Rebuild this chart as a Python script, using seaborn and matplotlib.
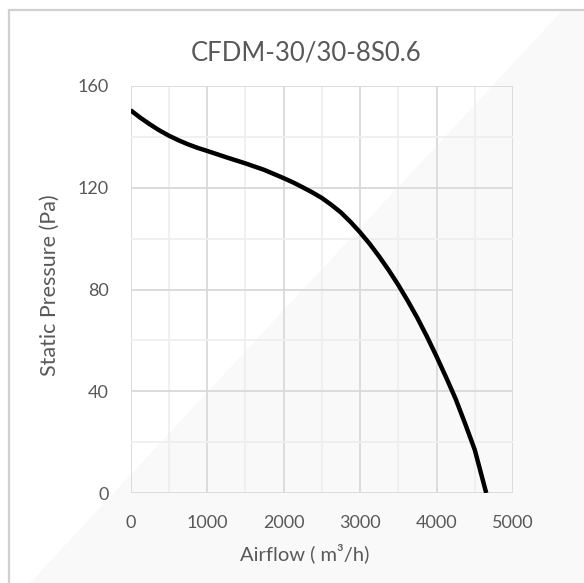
import matplotlib
matplotlib.use("Agg")
import matplotlib.pyplot as plt
from matplotlib.patches import Polygon
from matplotlib.lines import Line2D
import seaborn as sns
import pandas as pd

title = "CFDM-30/30-8S0.6"
airflow = [0, 125, 250, 375, 500, 625, 750, 875, 1000, 1250, 1500, 1750, 2000,
           2125, 2250, 2375, 2500, 2625, 2750, 2875, 3000, 3125, 3250, 3375, 3500,
           3625, 3750, 3875, 4000, 4125, 4250, 4375, 4500, 4575, 4650]
pressure = [150.5, 147.6, 145, 142.6, 140.5, 138.7, 137.1, 135.7, 134.5, 132, 129.6, 127, 123.8,
            122.1, 120.2, 118.2, 116, 113.3, 110.3, 106.6, 102.5, 98, 93, 87.6, 81.8,
            75.5, 68.8, 61.5, 53.7, 45.5, 37, 27.2, 17, 8.5, 0]
x_ticks = [0, 1000, 2000, 3000, 4000, 5000]
y_ticks = [0, 40, 80, 120, 160]
x_label = "Airflow ( m³/h)"
y_label = "Static Pressure (Pa)"

sns.set_theme(style="white")
plt.rcParams["font.family"] = ["Lato", "DejaVu Sans"]
TXT = "#595959"

W, H = 584, 583
fig = plt.figure(figsize=(W / 100, H / 100), dpi=100)
fig.patch.set_facecolor("white")

# diagonal light shading
tri = Polygon([(563 / W, 1 - 10 / H), (30 / W, 0), (1, 0), (1, 1 - 10 / H)],
              closed=True, transform=fig.transFigure, facecolor="#f9f9f9",
              edgecolor="none", zorder=-5)
fig.patches.append(tri)
# chart border (top and left)
fig.lines.append(Line2D([8.5 / W, 1], [1 - 10 / H, 1 - 10 / H], transform=fig.transFigure,
                        color="#d0d0d0", lw=1.6, zorder=-4))
fig.lines.append(Line2D([8.5 / W, 8.5 / W], [0, 1 - 10 / H], transform=fig.transFigure,
                        color="#d0d0d0", lw=1.6, zorder=-4))

left, right, top, bottom = 130.5, 513, 86, 493
ax = fig.add_axes([left / W, 1 - bottom / H, (right - left) / W, (bottom - top) / H])
ax.set_facecolor("none")
ax.set_zorder(1)

df = pd.DataFrame({"Airflow": airflow, "Pressure": pressure})
sns.lineplot(data=df, x="Airflow", y="Pressure", ax=ax, color="black", lw=3.2,
             sort=False, zorder=5)
for ln in ax.lines:
    ln.set_solid_joinstyle("round")
    ln.set_solid_capstyle("butt")

ax.set_xlim(0, 5000)
ax.set_ylim(0, 160)
ax.set_xticks(x_ticks)
ax.set_yticks(y_ticks)
ax.set_xticks([500, 1500, 2500, 3500, 4500], minor=True)
ax.set_yticks([20, 60, 100, 140], minor=True)
ax.grid(True, which="major", color="#d9d9d9", lw=1.3, zorder=1)
ax.grid(True, which="minor", color="#efefef", lw=1.3, zorder=1)
ax.tick_params(which="both", length=0)
ax.tick_params(axis="x", pad=16, labelsize=13, labelcolor=TXT)
ax.tick_params(axis="y", pad=15.5, labelsize=13, labelcolor=TXT)
for s in ax.spines.values():
    s.set_visible(False)
ax.set_xlabel("")
ax.set_ylabel("")

fig.text(306 / W, 1 - 60 / H, title, ha="center", va="baseline", fontsize=18.5, color=TXT)
fig.text(304.5 / W, 1 - 560 / H, x_label, ha="center", va="baseline", fontsize=14.5, color=TXT)
fig.text(50 / W, 1 - 285 / H, y_label, ha="center", va="center", fontsize=15.5,
         color=TXT, rotation=90)

fig.savefig("out.png", dpi=100)
